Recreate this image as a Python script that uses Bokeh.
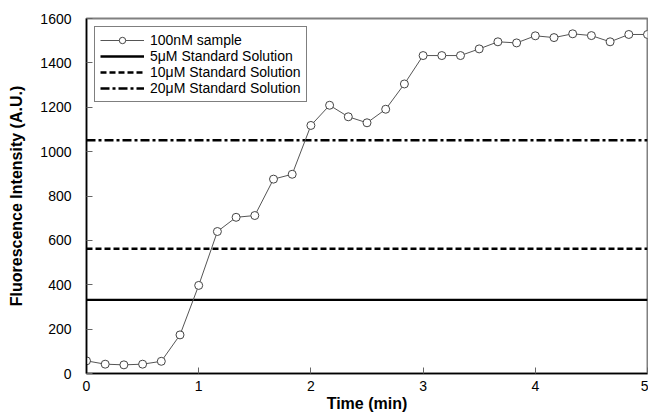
from bokeh.plotting import figure
from bokeh.embed import file_html
from bokeh.resources import INLINE
from bokeh.models import Range1d, FixedTicker, Legend, LegendItem

time_min = [i / 6 for i in range(31)]
sample_100nM = [57, 42, 39, 42, 55, 174, 397, 640, 704, 712,
                876, 898, 1118, 1209, 1157, 1130, 1191, 1305, 1433, 1433,
                1433, 1463, 1495, 1490, 1522, 1514, 1531, 1523, 1495, 1528, 1528]
std_5uM = 332
std_10uM = 562
std_20uM = 1051
x_ticks = [0, 1, 2, 3, 4, 5]
y_ticks = [0, 200, 400, 600, 800, 1000, 1200, 1400, 1600]

FONT = "Liberation Sans"

p = figure(width=648, height=415, output_backend="svg", toolbar_location=None,
           x_range=Range1d(0, 5), y_range=Range1d(0, 1600),
           min_border_left=86, min_border_right=1, min_border_top=18, min_border_bottom=42)
p.grid.visible = False
p.outline_line_color = "#808080"
p.outline_line_width = 2
p.background_fill_color = "white"

xs = [time_min[0], time_min[-1]]
r5 = p.line(xs, [std_5uM, std_5uM], line_color="black", line_width=2.4)
r10 = p.line(xs, [std_10uM, std_10uM], line_color="black", line_width=2.4, line_dash="6 3")
r20 = p.line(xs, [std_20uM, std_20uM], line_color="black", line_width=2.4, line_dash="9 3 3 3")
rl = p.line(time_min, sample_100nM, line_color="#555555", line_width=1)
rs = p.scatter(time_min, sample_100nM, marker="circle", size=8, line_color="#444444",
               fill_color="white", line_width=1)

for ax in (p.xaxis[0], p.yaxis[0]):
    ax.major_tick_in = 6
    ax.major_tick_out = 0
    ax.minor_tick_line_color = None
    ax.axis_line_color = "black"
    ax.axis_line_width = 1.5
    ax.major_tick_line_color = "#666666"
    ax.major_label_text_font = FONT
    ax.major_label_text_font_size = "14px"
    ax.major_label_text_color = "black"
    ax.axis_label_text_font = FONT
    ax.axis_label_text_font_size = "16px"
    ax.axis_label_text_font_style = "bold"
    ax.axis_label_text_color = "black"

p.xaxis.ticker = FixedTicker(ticks=x_ticks)
p.yaxis.ticker = FixedTicker(ticks=y_ticks)
p.xaxis.axis_label = "Time (min)"
p.yaxis.axis_label = "Fluorescence Intensity (A.U.)"
p.xaxis.major_label_standoff = 7
p.yaxis.major_label_standoff = 15
p.xaxis.axis_label_standoff = 1
p.yaxis.axis_label_standoff = 12

legend = Legend(items=[
    LegendItem(label="100nM sample", renderers=[rl, rs]),
    LegendItem(label="5\u03bcM Standard Solution", renderers=[r5]),
    LegendItem(label="10\u03bcM Standard Solution", renderers=[r10]),
    LegendItem(label="20\u03bcM Standard Solution", renderers=[r20]),
], location="top_left")
legend.margin = 8
legend.padding = 5
legend.spacing = 0
legend.label_height = 16
legend.glyph_height = 16
legend.glyph_width = 44
legend.label_standoff = 6
legend.label_text_font = FONT
legend.label_text_font_size = "14px"
legend.label_text_color = "black"
legend.border_line_color = "black"
legend.border_line_width = 1
legend.background_fill_alpha = 1
p.add_layout(legend)

open("out.html", "w").write(file_html(p, INLINE))
